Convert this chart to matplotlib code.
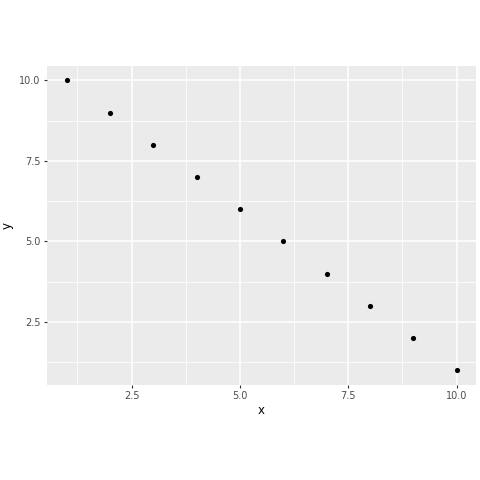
import numpy as np
from matplotlib import pyplot as plt
from matplotlib.ticker import MultipleLocator

x = [1, 2, 3, 4, 5, 6, 7, 8, 9, 10]
y = [10, 9, 8, 7, 6, 5, 4, 3, 2, 1]

fig = plt.figure(figsize=(4.8, 4.8), dpi=100)
ax = fig.add_axes([0.098, 0.198, 0.894, 0.665])
ax.set_facecolor("#EBEBEB")

ax.xaxis.set_major_locator(MultipleLocator(2.5))
ax.xaxis.set_minor_locator(MultipleLocator(1.25))
ax.yaxis.set_major_locator(MultipleLocator(2.5))
ax.yaxis.set_minor_locator(MultipleLocator(1.25))
ax.grid(which="major", color="white", linewidth=1.1)
ax.grid(which="minor", color="white", linewidth=0.55)
ax.set_axisbelow(True)

ax.scatter(x, y, s=14, color="black", zorder=3, linewidths=0)

ax.set_xlim(0.55, 10.45)
ax.set_ylim(0.55, 10.45)
ax.xaxis.set_major_formatter(plt.FuncFormatter(lambda v, p: f"{v:.1f}"))
ax.yaxis.set_major_formatter(plt.FuncFormatter(lambda v, p: f"{v:.1f}"))

for s in ax.spines.values():
    s.set_visible(False)
ax.tick_params(which="major", length=2.5, width=0.8, color="#333333",
               labelsize=7, labelcolor="#4D4D4D", pad=2)
ax.tick_params(which="minor", length=0)

ax.set_xlabel("x", fontsize=8.5, labelpad=2)
ax.set_ylabel("y", fontsize=8.5, labelpad=4)

fig.savefig("out.png", dpi=100)
